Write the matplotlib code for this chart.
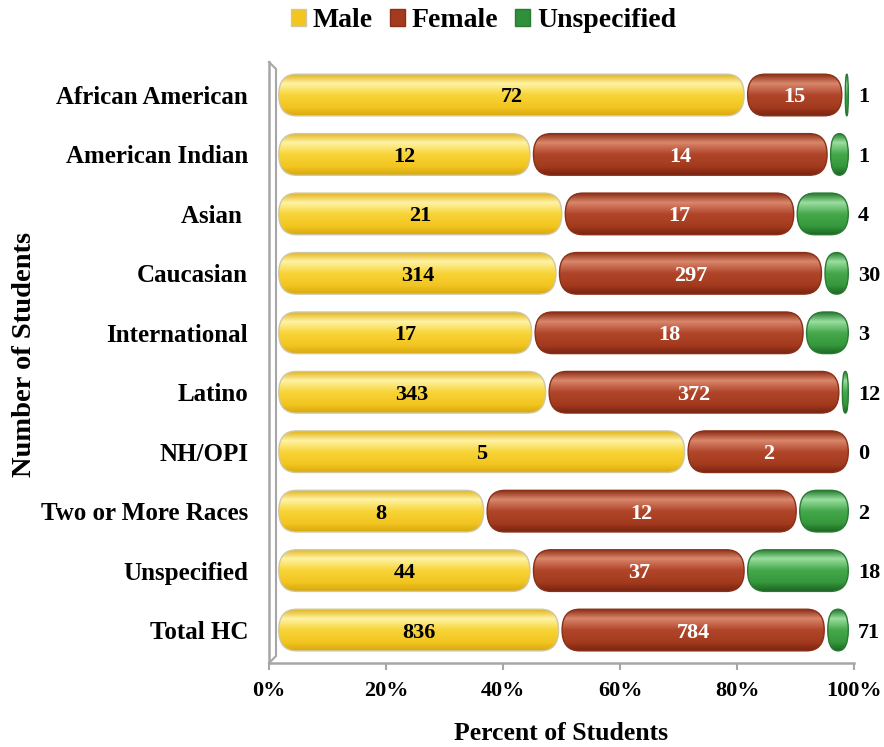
import numpy as np
import matplotlib.pyplot as plt
from matplotlib.patches import FancyBboxPatch, Patch
from matplotlib.colors import LinearSegmentedColormap
from matplotlib.ticker import PercentFormatter

plt.rcParams['font.family'] = ['Liberation Serif', 'DejaVu Serif']
plt.rcParams['font.weight'] = 'bold'
plt.rcParams['axes.labelweight'] = 'bold'

# ---- data ----
categories = ['African American', 'American Indian', 'Asian ', 'Caucasian', 'International',
              'Latino', 'NH/OPI', 'Two or More Races', 'Unspecified', 'Total HC']
male = [72, 12, 21, 314, 17, 343, 5, 8, 44, 836]
female = [15, 14, 17, 297, 18, 372, 2, 12, 37, 784]
unspec = [1, 1, 4, 30, 3, 12, 0, 2, 18, 71]
series_names = ['Male', 'Female', 'Unspecified']

# glossy cylinder gradients (top edge -> highlight -> body -> bottom edge)
grad_stops = [
    ['#E2B41A', '#FFF3A6', '#F8D437', '#F2C521', '#D8A90E'],
    ['#8C2D15', '#D9876C', '#B0452A', '#A33A1E', '#7A2410'],
    ['#237A2C', '#9ADFA0', '#45A84B', '#35983C', '#1D6624'],
]
base_cols = ['#F2C61F', '#A63A1F', '#2F8F3A']
edge_cols = ['#CFC7A6', '#8A3018', '#2A7A33']
text_cols = ['black', 'white', 'black']

fig = plt.figure(figsize=(8.84, 7.47), dpi=100)
ax = fig.add_axes([0.3043, 0.1124, 0.6618, 0.8046])

counts = np.array([male, female, unspec], dtype=float)
totals = counts.sum(axis=0)
fracs = counts / totals

depth = 0.0137      # pseudo 3D offset of the bar plane
scale = 0.9795
bar_h = 0.70
gap = 0.003
R = 0.03            # horizontal radius of the rounded ends

grad = np.linspace(0, 1, 64).reshape(-1, 1)
cmaps = [LinearSegmentedColormap.from_list(f'g{s}', list(zip([0, 0.22, 0.5, 0.8, 1.0], grad_stops[s])))
         for s in range(3)]

for i in range(len(categories)):
    left = 0.0
    for s in range(3):
        f = fracs[s, i]
        if f <= 0:
            continue
        x0 = depth + left * scale + gap
        w = f * scale - 2 * gap
        y0 = i - bar_h / 2
        r = min(R, w / 2)
        asp = (bar_h / 2) / r
        body = FancyBboxPatch((x0, y0), w, bar_h,
                              boxstyle=f"round,pad=0,rounding_size={r}",
                              mutation_aspect=asp, facecolor='none',
                              edgecolor=edge_cols[s], linewidth=1.0, zorder=4)
        ax.add_patch(body)
        im = ax.imshow(grad, cmap=cmaps[s], aspect='auto', extent=(x0, x0 + w, y0 + bar_h, y0),
                       origin='upper', interpolation='bilinear', zorder=3)
        im.set_clip_path(body)
        if s < 2:
            ax.text(x0 + w / 2, i, str(int(counts[s, i])), ha='center', va='center_baseline',
                    color=text_cols[s], fontsize=16, zorder=5)
        left += f
    ax.text(1.007, i, str(int(counts[2, i])), ha='left', va='center_baseline',
            color='black', fontsize=16, transform=ax.get_yaxis_transform(), zorder=5)

ax.set_xlim(0, 1)
ax.set_ylim(len(categories) - 1 + 0.555, -0.555)
ax.set_yticks(range(len(categories)))
ax.set_yticklabels(categories, fontsize=18)
ax.tick_params(axis='y', length=0, pad=15)
ax.set_xticks(np.linspace(0, 1, 6))
ax.xaxis.set_major_formatter(PercentFormatter(1.0, decimals=0))
ax.tick_params(axis='x', length=5, color='#A6A6A6', width=1.5, labelsize=16, pad=8)

for sp in ['top', 'right']:
    ax.spines[sp].set_visible(False)
for sp in ['left', 'bottom']:
    ax.spines[sp].set_color('#A6A6A6')
    ax.spines[sp].set_linewidth(1.8)

# back edge of the 3D wall
dx = 7 / 585
dy = 7 / 601
ax.plot([0, dx, dx, 0], [1, 1 - dy, dy, 0], color='#A6A6A6', lw=1.5,
        transform=ax.transAxes, clip_on=False, zorder=1)

ax.set_xlabel('Percent of Students', fontsize=18.5, fontweight='bold', labelpad=15)
fig.text(25 / 884, 1 - 354 / 747, 'Number of Students', rotation=90,
         ha='center', va='center', fontsize=20.5, fontweight='bold')

handles = [Patch(facecolor=base_cols[s], edgecolor=edge_cols[s]) for s in range(3)]
fig.legend(handles, series_names, loc='center', bbox_to_anchor=(0.547, 0.972), ncol=3,
           frameon=False, handlelength=0.55, handleheight=0.55,
           handletextpad=0.25, columnspacing=0.6,
           prop={'weight': 'bold', 'size': 20})

plt.savefig('out.png', dpi=100)
